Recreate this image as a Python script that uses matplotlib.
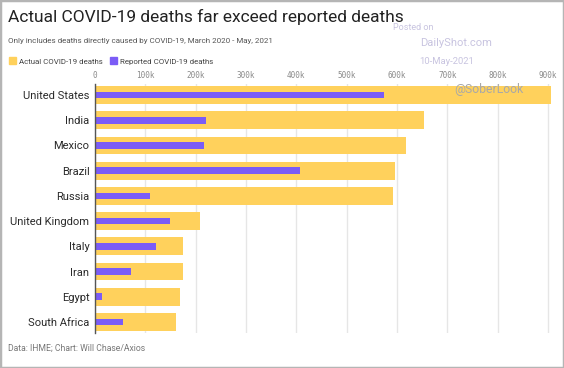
import matplotlib
matplotlib.use("Agg")
import matplotlib.pyplot as plt
from matplotlib.patches import Patch, Rectangle
from matplotlib.ticker import FuncFormatter

plt.rcParams["font.family"] = ["Roboto", "DejaVu Sans"]

# data
countries = ["United States", "India", "Mexico", "Brazil", "Russia",
             "United Kingdom", "Italy", "Iran", "Egypt", "South Africa"]
actual = [906000, 654000, 618000, 596000, 593000, 209000, 175000, 174000, 169000, 160000]
reported = [574000, 221000, 217000, 408000, 109000, 150000, 121000, 72000, 13000, 55000]
ticks = [0, 100000, 200000, 300000, 400000, 500000, 600000, 700000, 800000, 900000]

YELLOW = "#ffd15c"
PURPLE = "#7b5cf6"
GRID = "#e6e6e6"

fig = plt.figure(figsize=(5.64, 3.68), dpi=100)
W, H = 564, 368
ax = fig.add_axes([95 / W, 1 - 333 / H, (551 - 95) / W, (333 - 84) / H])

y = list(range(len(countries)))
ax.barh(y, actual, height=0.71, color=YELLOW, zorder=2)
ax.barh(y, reported, height=0.26, color=PURPLE, zorder=3)

ax.set_xlim(0, 906000)
ax.set_ylim(len(countries) - 0.56, -0.44)
ax.set_yticks(y)
ax.set_yticklabels(countries, fontsize=8, color="#2a2a2a")
ax.set_xticks(ticks)
ax.xaxis.set_major_formatter(FuncFormatter(lambda v, p: "0" if v == 0 else f"{int(v / 1000)}k"))
ax.xaxis.tick_top()
ax.tick_params(axis="x", length=0, pad=3, labelsize=5.5, labelcolor="#8a8a8a")
ax.tick_params(axis="y", length=0, pad=4)
for lab in ax.get_xticklabels():
    lab.set_family("DejaVu Sans Mono")
ax.grid(axis="x", color=GRID, lw=1, zorder=0)
for s in ["top", "right", "bottom"]:
    ax.spines[s].set_visible(False)
ax.spines["left"].set_color("#555555")
ax.spines["left"].set_linewidth(1)
ax.spines["left"].set_zorder(4)

# titles
fig.text(8 / W, 1 - 17 / H, "Actual COVID-19 deaths far exceed reported deaths",
         fontsize=12.5, color="#222222", va="center", ha="left")
fig.text(8 / W, 1 - 41 / H, "Only includes deaths directly caused by COVID-19, March 2020 - May, 2021",
         fontsize=5.8, color="#555555", va="center", ha="left")

handles = [Patch(color=YELLOW, label="Actual COVID-19 deaths"),
           Patch(color=PURPLE, label="Reported COVID-19 deaths")]
fig.legend(handles=handles, loc="center left", bbox_to_anchor=(2 / W, 1 - 61 / H), ncol=2,
           frameon=False, fontsize=5.7, handlelength=0.9, handleheight=0.9,
           handletextpad=0.4, columnspacing=0.8, labelcolor="#444444")

# watermark
fig.text(413 / W, 1 - 27 / H, "Posted on", fontsize=6.5, color="#c8c4e0", ha="center", va="center")
fig.text(456 / W, 1 - 43 / H, "DailyShot.com", fontsize=8, color="#c8c4e0", ha="center", va="center")
fig.text(447 / W, 1 - 61 / H, "10-May-2021", fontsize=6.8, color="#c8c4e0", ha="center", va="center")
fig.text(489 / W, 1 - 90 / H, "@SoberLook", fontsize=8.8, color="#a8a8a8", ha="center", va="center", zorder=10)

fig.text(8 / W, 1 - 348 / H, "Data: IHME; Chart: Will Chase/Axios", fontsize=6.2, color="#777777",
         ha="left", va="center")

fig.patches.append(Rectangle((0, 0), 1, 1, transform=fig.transFigure, fill=False,
                             edgecolor="#b5b5b5", lw=2.5))

fig.savefig("out.png", dpi=100)
